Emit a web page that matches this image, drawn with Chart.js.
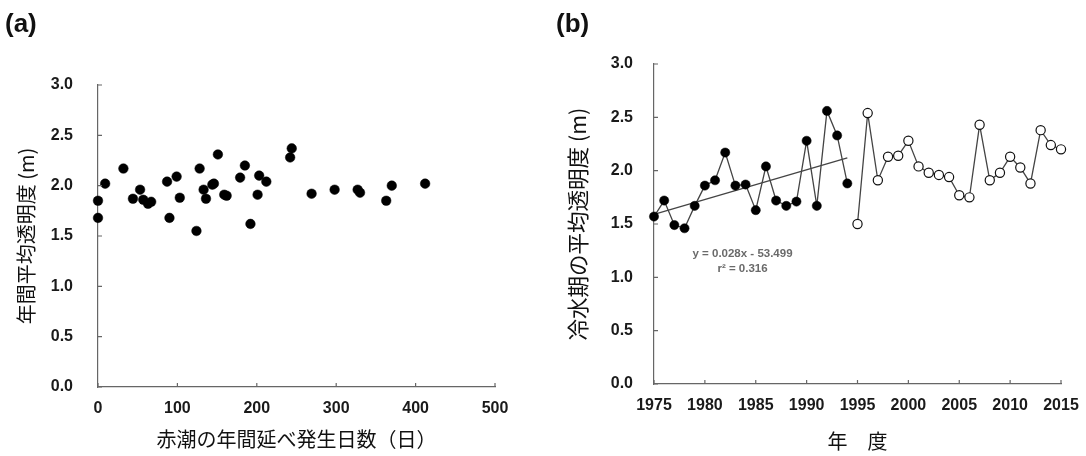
<!DOCTYPE html>
<html><head><meta charset="utf-8">
<script src="https://cdn.jsdelivr.net/npm/chart.js@4.4.1/dist/chart.umd.min.js"></script>
<style>
html,body{margin:0;padding:0;background:#fff;width:1086px;height:456px;overflow:hidden;}
.panel{position:absolute;top:0;height:456px;}
.lab{position:absolute;font:bold 26px 'Liberation Sans',Arial,sans-serif;color:#111;}
</style></head><body>
<div class="panel" style="left:0;width:540px;"><canvas id="ca" width="540" height="456"></canvas></div>
<div class="panel" style="left:540px;width:546px;"><canvas id="cb" width="546" height="456"></canvas></div>
<div class="lab" style="left:5px;top:8px;">(a)</div>
<div class="lab" style="left:556px;top:8px;">(b)</div>
<script>
// ---- Panel (a) data ----
const redTideDays = [0, 0, 9, 32, 44, 53, 57, 63, 67, 87, 90, 99, 103, 124, 128, 133, 136, 144, 146, 151, 159, 162, 179, 185, 192, 201, 203, 212, 242, 244, 269, 298, 327, 330, 363, 370, 412];
const annualTransparency = [1.85, 1.68, 2.02, 2.17, 1.87, 1.96, 1.86, 1.82, 1.84, 2.04, 1.68, 2.09, 1.88, 1.55, 2.17, 1.96, 1.87, 2.01, 2.02, 2.31, 1.91, 1.90, 2.08, 2.20, 1.62, 1.91, 2.10, 2.04, 2.28, 2.37, 1.92, 1.96, 1.96, 1.93, 1.85, 2.00, 2.02];
const xTicksA = [0, 100, 200, 300, 400, 500];
const yTicks = [0.0, 0.5, 1.0, 1.5, 2.0, 2.5, 3.0];

// ---- Panel (b) data ----
const yearsEarly = [1975,1976,1977,1978,1979,1980,1981,1982,1983,1984,1985,1986,1987,1988,1989,1990,1991,1992,1993,1994];
const coldEarly = [1.57, 1.72, 1.49, 1.46, 1.67, 1.86, 1.91, 2.17, 1.86, 1.87, 1.63, 2.04, 1.72, 1.67, 1.71, 2.28, 1.67, 2.56, 2.33, 1.88];
const yearsLate = [1995,1996,1997,1998,1999,2000,2001,2002,2003,2004,2005,2006,2007,2008,2009,2010,2011,2012,2013,2014,2015];
const coldLate = [1.50, 2.54, 1.91, 2.13, 2.14, 2.28, 2.04, 1.98, 1.96, 1.94, 1.77, 1.75, 2.43, 1.91, 1.98, 2.13, 2.03, 1.88, 2.38, 2.24, 2.20];
const trendYears = [1975, 1994];
const trendValues = [1.59, 2.12];
const xTicksB = [1975,1980,1985,1990,1995,2000,2005,2010,2015];
const trendText = ['y = 0.028x - 53.499', 'r\u00B2 = 0.316'];
const trendTextPos = {x: 1983.7, y: [1.22, 1.08]};

const tickFont = {family: "'Liberation Sans', Arial, sans-serif", size: 16, weight: 'bold'};
const titleFontFamily = "'Noto Sans CJK JP', 'Noto Sans CJK SC', sans-serif";
const axisColor = '#666';

const inwardTicks = {
  id: 'inwardTicks',
  afterDraw(chart, args, opts) {
    const ctx = chart.ctx, x = chart.scales.x, y = chart.scales.y;
    ctx.save();
    ctx.strokeStyle = axisColor; ctx.lineWidth = 1.2;
    const L = 4;
    ctx.beginPath();
    opts.xt.forEach(v => { const px = x.getPixelForValue(v); ctx.moveTo(px, y.bottom); ctx.lineTo(px, y.bottom - L); });
    opts.yt.forEach(v => { const py = y.getPixelForValue(v); ctx.moveTo(x.left, py); ctx.lineTo(x.left + L, py); });
    ctx.stroke();
    if (opts.text) {
      ctx.fillStyle = '#6a6a6a';
      ctx.font = "bold 11.5px 'Liberation Sans', Arial, sans-serif";
      ctx.textAlign = 'center'; ctx.textBaseline = 'middle';
      opts.text.forEach((t, i) => ctx.fillText(t, x.getPixelForValue(trendTextPos.x), y.getPixelForValue(trendTextPos.y[i])));
    }
    ctx.restore();
  }
};

function makeScales(xmin, xmax, xTicks, xTitle, yTitle, cfg) {
  return {
    x: {
      type: 'linear', min: xmin, max: xmax,
      afterBuildTicks: s => { s.ticks = xTicks.map(v => ({value: v})); },
      afterFit: s => { s.height = cfg.xHeight; },
      grid: {display: false},
      border: {display: true, color: axisColor, width: 1.2},
      ticks: {font: tickFont, color: '#1a1a1a', padding: 4, maxRotation: 0, autoSkip: false, callback: v => String(v)},
      title: {display: true, text: xTitle, font: {family: titleFontFamily, size: 20}, color: '#111', padding: {top: 0, bottom: cfg.xTitlePad}}
    },
    y: {
      type: 'linear', min: 0, max: 3,
      afterBuildTicks: s => { s.ticks = yTicks.map(v => ({value: v})); },
      afterFit: s => { s.width = cfg.yWidth; },
      grid: {display: false},
      border: {display: true, color: axisColor, width: 1.2},
      ticks: {font: tickFont, color: '#1a1a1a', padding: cfg.yTickPad, callback: v => Number(v).toFixed(1)},
      title: {display: true, text: yTitle, font: {family: titleFontFamily, size: cfg.yTitleSize}, color: '#111', padding: {top: cfg.yTitlePad, bottom: 0}}
    }
  };
}

new Chart(document.getElementById('ca'), {
  type: 'scatter',
  data: {datasets: [{
    data: redTideDays.map((d, i) => ({x: d, y: annualTransparency[i]})),
    clip: false,
    pointRadius: 4.8, pointBackgroundColor: '#000', pointBorderColor: '#000', pointBorderWidth: 0.5
  }]},
  options: {
    responsive: false, animation: false,
    layout: {padding: {left: 0, right: 45, top: 85, bottom: 0}},
    plugins: {legend: {display: false}, tooltip: {enabled: false}, inwardTicks: {xt: xTicksA, yt: yTicks}},
    scales: makeScales(0, 500, xTicksA, '赤潮の年間延べ発生日数（日）', '年間平均透明度 (m)',
      {yWidth: 98, xHeight: 69, yTitlePad: 14, xTitlePad: 5, yTickPad: 17, yTitleSize: 20})
  },
  plugins: [inwardTicks]
});

new Chart(document.getElementById('cb'), {
  type: 'scatter',
  data: {datasets: [
    {data: trendYears.map((yr, i) => ({x: yr, y: trendValues[i]})), showLine: true, borderColor: '#444', borderWidth: 1.3, pointRadius: 0, order: 3, clip: false},
    {data: yearsEarly.map((yr, i) => ({x: yr, y: coldEarly[i]})), showLine: true, borderColor: '#444', borderWidth: 1.3, clip: false,
     pointRadius: 4.6, pointBackgroundColor: '#000', pointBorderColor: '#000', pointBorderWidth: 0.5, order: 1},
    {data: yearsLate.map((yr, i) => ({x: yr, y: coldLate[i]})), showLine: true, borderColor: '#444', borderWidth: 1.3, clip: false,
     pointRadius: 4.6, pointBackgroundColor: '#fff', pointBorderColor: '#111', pointBorderWidth: 1.2, order: 2}
  ]},
  options: {
    responsive: false, animation: false,
    layout: {padding: {left: 0, right: 25, top: 64, bottom: 0}},
    plugins: {legend: {display: false}, tooltip: {enabled: false}, inwardTicks: {xt: xTicksB, yt: yTicks, text: trendText}},
    scales: makeScales(1975, 2015, xTicksB, '年　度', '冷水期の平均透明度 (m)',
      {yWidth: 114, xHeight: 72, yTitlePad: 25, xTitlePad: 3, yTickPad: 13, yTitleSize: 21.5})
  },
  plugins: [inwardTicks]
});
</script>
</body></html>
